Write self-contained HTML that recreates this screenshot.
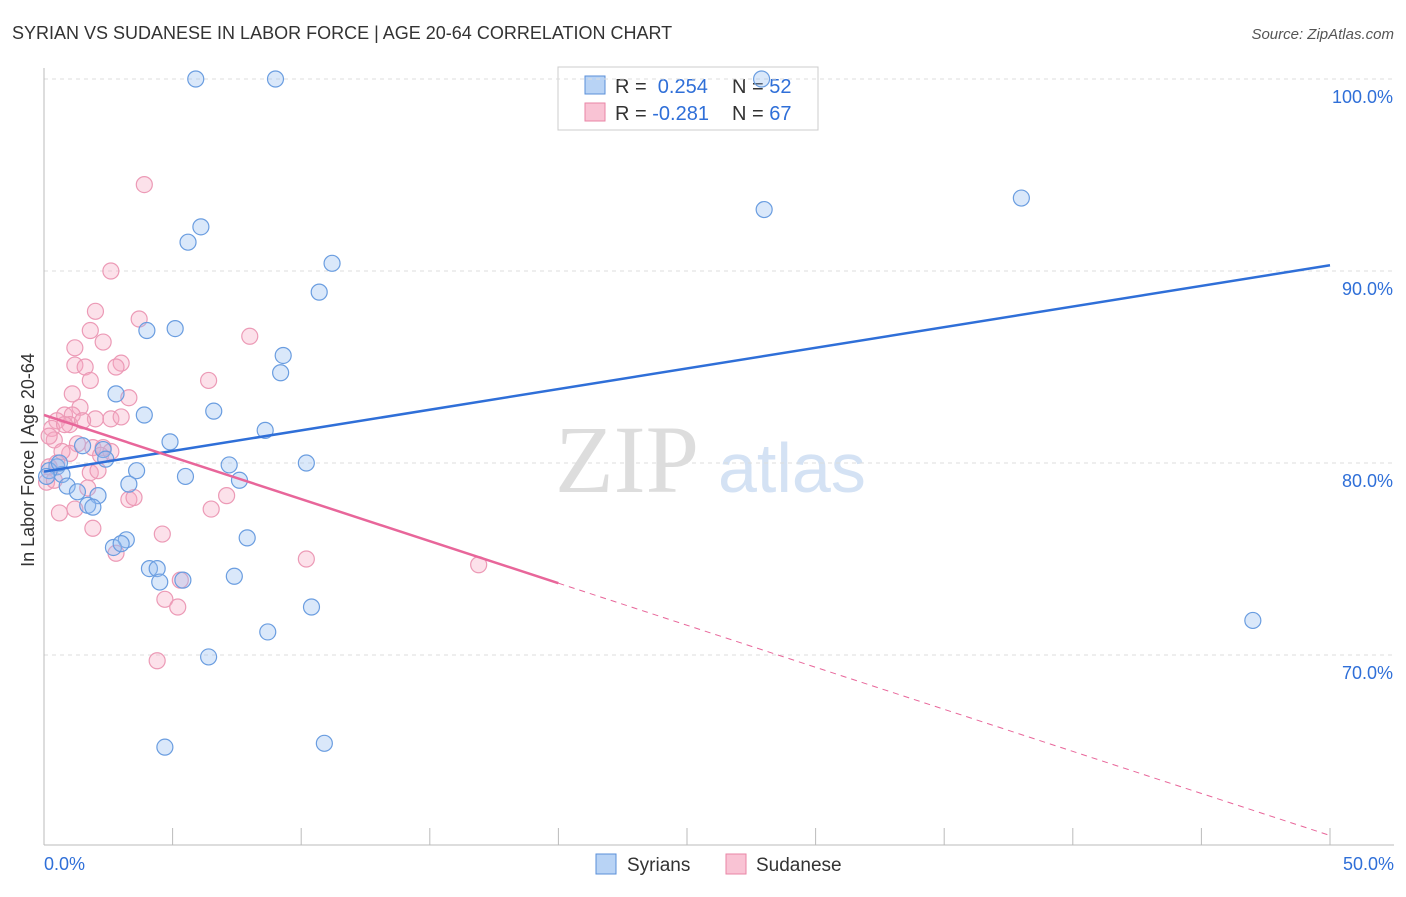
<!DOCTYPE html>
<html><head><meta charset="utf-8"><style>
body{margin:0;background:#fff;font-family:"Liberation Sans",sans-serif}
</style></head><body>
<svg id="c" width="1406" height="892" xmlns="http://www.w3.org/2000/svg">
<text x="12" y="39" font-size="18" fill="#333">SYRIAN VS SUDANESE IN LABOR FORCE | AGE 20-64 CORRELATION CHART</text>
<text x="1394" y="39" font-size="15" fill="#555" font-style="italic" text-anchor="end">Source: ZipAtlas.com</text>
<text x="34" y="460" font-size="18" fill="#333" text-anchor="middle" transform="rotate(-90 34 460)">In Labor Force | Age 20-64</text>
<text x="555" y="492" font-size="96" fill="#ddd" font-family="Liberation Serif">ZIP</text>
<text x="718" y="492" font-size="70" fill="#d4e2f4">atlas</text>
<g>
<rect x="558" y="67" width="260" height="63" fill="#fff" stroke="#ccc"/>
<rect x="585" y="76" width="20" height="18" fill="#b8d3f5" stroke="#5a8fd8"/>
<rect x="585" y="103" width="20" height="18" fill="#f9c3d4" stroke="#e986a6"/>
<text x="615" y="93" font-size="20" fill="#333">R = <tspan fill="#2f6fd8">&#160;0.254</tspan><tspan x="732">N = </tspan><tspan fill="#2f6fd8">52</tspan></text>
<text x="615" y="120" font-size="20" fill="#333">R = <tspan fill="#2f6fd8">-0.281</tspan><tspan x="732">N = </tspan><tspan fill="#2f6fd8">67</tspan></text>
</g>
<g id="grid"></g><g id="marks"></g>
<g>
<rect x="596" y="854" width="20" height="20" fill="#b8d3f5" stroke="#5a8fd8"/>
<text x="627" y="871" font-size="19" fill="#333">Syrians</text>
<rect x="726" y="854" width="20" height="20" fill="#f9c3d4" stroke="#e986a6"/>
<text x="756" y="871" font-size="19" fill="#333">Sudanese</text>
</g>
</svg>
<script>
const yTicks=[70,80,90,100];
const xTickLabels=["0.0%","50.0%"];
const syrX=[5.9,9,27.9,28,38,47,6.1,5.6,11.2,10.7,4,5.1,9.3,9.2,2.8,3.9,6.6,8.6,4.9,1.5,2.3,10.2,0.5,0.7,3.6,5.5,7.2,7.6,0.9,3.3,1.3,2.1,1.7,1.9,3.2,7.9,2.7,3,4.1,4.4,4.5,5.4,7.4,10.4,8.7,6.4,4.7,10.9,0.2,0.1,2.4,0.6];
const syrY=[100,100,100,93.2,93.8,71.8,92.3,91.5,90.4,88.9,86.9,87,85.6,84.7,83.6,82.5,82.7,81.7,81.1,80.9,80.7,80,79.8,79.4,79.6,79.3,79.9,79.1,78.8,78.9,78.5,78.3,77.8,77.7,76,76.1,75.6,75.8,74.5,74.5,73.8,73.9,74.1,72.5,71.2,69.9,65.2,65.4,79.6,79.3,80.2,80]; 
const sudX=[3.9,2.6,2,3.7,1.8,8,1.2,2.3,3,1.2,1.6,2.8,1.8,6.4,3.3,1.4,0.8,1.1,0.5,2.6,3,2,1,0.3,0.4,1.3,1.9,2.3,1,2.2,0.5,0.2,0.1,0.4,1.8,2.1,7.1,3.3,3.5,6.5,0.6,1.2,1.9,4.6,2.8,10.2,16.9,5.3,4.7,5.2,4.4,1.7,0.8,1.5,0.2,0.7,2.6,1.1];
const sudY=[94.5,90,87.9,87.5,86.9,86.6,86,86.3,85.2,85.1,85,85,84.3,84.3,83.4,82.9,82.5,82.5,82.2,82.3,82.4,82.3,82,81.8,81.2,81,80.8,80.8,80.5,80.4,80,79.8,79,79.1,79.5,79.6,78.3,78.1,78.2,77.6,77.4,77.6,76.6,76.3,75.3,75,74.7,73.9,72.9,72.5,69.7,78.7,82,82.2,81.4,80.6,80.6,83.6];
const syrFit=[79.55,90.3], sudFit=[82.5,60.6];
const X=v=>44+v/50*1286, Y=v=>79+(100-v)*19.2;
const NS="http://www.w3.org/2000/svg";
function mk(t,a,p){const e=document.createElementNS(NS,t);for(const k in a)e.setAttribute(k,a[k]);p.appendChild(e);return e;}
const g=document.getElementById('grid'),m=document.getElementById('marks');
yTicks.forEach(t=>{const l=mk('line',{x1:44,x2:1394,y1:Y(t),y2:Y(t),stroke:'#ddd','stroke-dasharray':'4 4'},g);


const tx=mk('text',{x:1393,y:Y(t)+24,'font-size':18,fill:'#2f6fd8','text-anchor':'end'},g);tx.textContent=t.toFixed(1)+'%';

});
mk('line',{x1:44,x2:44,y1:68,y2:845,stroke:'#bbb'},g);
mk('line',{x1:44,x2:1394,y1:845,y2:845,stroke:'#bbb'},g);
for(let i=0;i<=10;i++)mk('line',{x1:X(i*5),x2:X(i*5),y1:828,y2:845,stroke:'#bbb'},g);
[0,50].forEach((v,i)=>{const t=mk('text',{x:i?1394:44,y:870,'font-size':18,fill:'#2f6fd8','text-anchor':i?'end':'start'},g);t.textContent=xTickLabels[i];

});
sudX.forEach((x,i)=>{const c=mk('circle',{cx:X(x),cy:Y(sudY[i]),r:8,fill:'rgba(246,168,194,0.35)',stroke:'#ec9ab6','stroke-width':1.2},m);

});
syrX.forEach((x,i)=>{const c=mk('circle',{cx:X(x),cy:Y(syrY[i]),r:8,fill:'rgba(150,190,240,0.35)',stroke:'#6a9de0','stroke-width':1.2},m);

});
const sl=mk('line',{x1:X(0),y1:Y(syrFit[0]),x2:X(50),y2:Y(syrFit[1]),stroke:'#2f6fd8','stroke-width':2.5},m);


const f=x=>sudFit[0]+(sudFit[1]-sudFit[0])*x/50;
const pl=mk('line',{x1:X(0),y1:Y(f(0)),x2:X(20),y2:Y(f(20)),stroke:'#e8669a','stroke-width':2.5},m);


const pd=mk('line',{x1:X(20),y1:Y(f(20)),x2:X(50),y2:Y(f(50)),stroke:'#e8669a','stroke-width':1,'stroke-dasharray':'6 5'},m);


</script>
</body></html>
